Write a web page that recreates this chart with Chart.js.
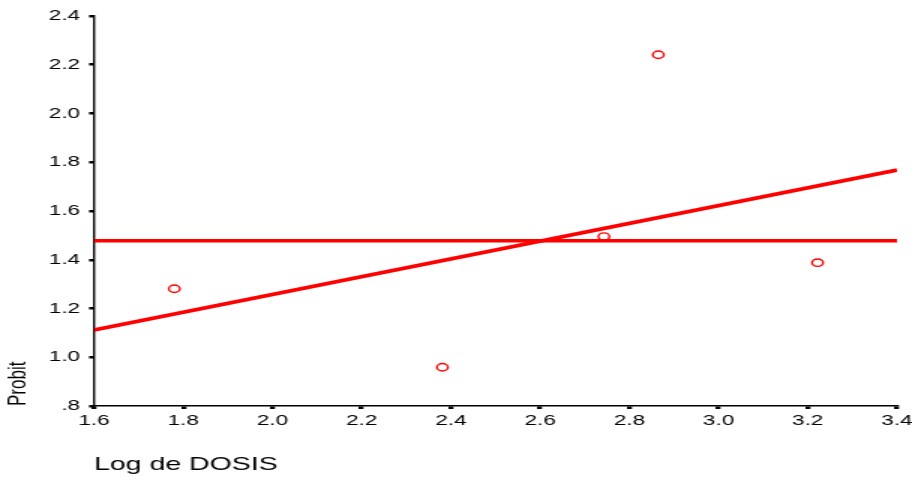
<!DOCTYPE html>
<html>
<head>
<meta charset="utf-8">
<script src="https://cdn.jsdelivr.net/npm/chart.js@4.4.1/dist/chart.umd.min.js"></script>
<style>
  html, body { margin: 0; padding: 0; background: #fff; overflow: hidden; }
  #wrap { width: 608px; height: 477px; transform: scaleX(1.5); transform-origin: 0 0; }
</style>
</head>
<body>
<div id="wrap"><canvas id="c"></canvas></div>
<script>
// Observed points (Log de DOSIS vs Probit)
const doseLog = [1.780, 2.381, 2.743, 2.865, 3.222];
const probit  = [1.281, 0.959, 1.495, 2.241, 1.388];
// Fitted regression line endpoints
const fitX = [1.6, 3.4];
const fitY = [1.112, 1.768];
// Mean (horizontal reference) line
const meanX = [1.6, 3.4];
const meanY = [1.478, 1.478];
// Tick labels
const xTickValues = [1.6, 1.8, 2.0, 2.2, 2.4, 2.6, 2.8, 3.0, 3.2, 3.4];
const xTickLabels = ['1.6','1.8','2.0','2.2','2.4','2.6','2.8','3.0','3.2','3.4'];
const yTickValues = [0.8, 1.0, 1.2, 1.4, 1.6, 1.8, 2.0, 2.2, 2.4];
const yTickLabels = ['.8','1.0','1.2','1.4','1.6','1.8','2.0','2.2','2.4'];

const toPts = (xs, ys) => xs.map((x, i) => ({ x: x, y: ys[i] }));
const RED = '#ff0000';
const FONT = "'Liberation Sans', Arial, sans-serif";

new Chart(document.getElementById('c'), {
  type: 'scatter',
  data: {
    datasets: [
      {
        label: 'Observado',
        data: toPts(doseLog, probit),
        showLine: false,
        pointStyle: 'circle',
        pointRadius: 3.7,
        pointBorderWidth: 1.4,
        borderColor: RED,
        backgroundColor: 'rgba(255,255,255,0)'
      },
      {
        label: 'Lineal',
        data: toPts(fitX, fitY),
        showLine: true,
        borderColor: RED,
        borderWidth: 3.6,
        pointRadius: 0,
        tension: 0
      },
      {
        label: 'Media',
        data: toPts(meanX, meanY),
        showLine: true,
        borderColor: RED,
        borderWidth: 3.6,
        pointRadius: 0,
        tension: 0
      }
    ]
  },
  options: {
    responsive: true,
    maintainAspectRatio: false,
    animation: false,
    layout: { padding: { left: 0, right: 0, top: 16, bottom: 0 } },
    plugins: { legend: { display: false }, tooltip: { enabled: false } },
    scales: {
      x: {
        type: 'linear',
        min: 1.6, max: 3.4,
        afterBuildTicks: (s) => { s.ticks = xTickValues.map(v => ({ value: v })); },
        afterFit: (s) => { s.height = 71; s.paddingRight = 10; s.paddingLeft = 0; },
        grid: { display: true, drawOnChartArea: false, drawTicks: true, tickLength: 3, lineWidth: 3.3, color: '#000' },
        border: { display: true, color: '#000', width: 1.5 },
        ticks: {
          color: '#000', padding: 3, maxRotation: 0, autoSkip: false,
          font: { family: FONT, size: 15 },
          callback: (v, i) => xTickLabels[i]
        },
        title: {
          display: true, text: 'Log de DOSIS', align: 'start', color: '#000',
          font: { family: FONT, size: 19 },
          padding: { top: 0, bottom: 1 }
        }
      },
      y: {
        type: 'linear',
        min: 0.8, max: 2.4,
        afterBuildTicks: (s) => { s.ticks = yTickValues.map(v => ({ value: v })); },
        afterFit: (s) => { s.width = 62.7; },
        grid: { display: true, drawOnChartArea: false, drawTicks: true, tickLength: 3.3, lineWidth: 2.5, color: '#000' },
        border: { display: true, color: '#000', width: 1.4 },
        ticks: {
          color: '#000', padding: 6, autoSkip: false,
          font: { family: FONT, size: 15 },
          callback: (v, i) => yTickLabels[i]
        },
        title: {
          display: true, text: 'Probit', align: 'start', color: '#000',
          font: { family: FONT, size: 17 },
          padding: { top: 2, bottom: 0 }
        }
      }
    }
  }
});
</script>
</body>
</html>
